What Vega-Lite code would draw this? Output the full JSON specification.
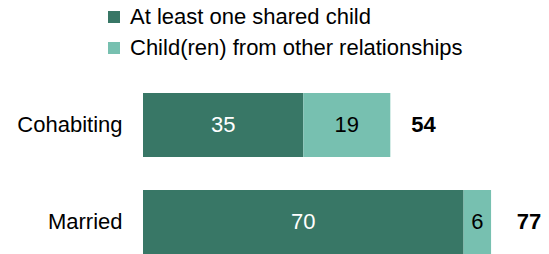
{
  "$schema": "https://vega.github.io/schema/vega-lite/v6.json",
  "width": 406,
  "height": 161,
  "autosize": {"type": "none"},
  "padding": {"left": 143, "top": 93, "right": 0, "bottom": 0},
  "background": "white",
  "config": {"view": {"stroke": null}, "font": "Liberation Sans"},
  "datasets": {
    "segments": [
      {"group": "Cohabiting", "type": "At least one shared child", "value": 35, "order": 1},
      {"group": "Cohabiting", "type": "Child(ren) from other relationships", "value": 19, "order": 2},
      {"group": "Married", "type": "At least one shared child", "value": 70, "order": 1},
      {"group": "Married", "type": "Child(ren) from other relationships", "value": 6, "order": 2}
    ],
    "totals": [
      {"group": "Cohabiting", "total": 54},
      {"group": "Married", "total": 77}
    ]
  },
  "layer": [
    {
      "data": {"name": "segments"},
      "mark": {"type": "bar"},
      "encoding": {
        "y": {
          "field": "group", "type": "nominal",
          "scale": {"domain": ["Cohabiting", "Married"], "paddingInner": 0.34, "paddingOuter": 0},
          "axis": {"title": null, "ticks": false, "domain": false, "labelPadding": 21, "labelFontSize": 22, "labelColor": "#000", "labelFont": "Liberation Sans"}
        },
        "x": {"field": "value", "type": "quantitative", "stack": "zero", "scale": {"domain": [0, 88.65], "nice": false, "zero": true}, "axis": null},
        "color": {
          "field": "type", "type": "nominal",
          "scale": {"domain": ["At least one shared child", "Child(ren) from other relationships"], "range": ["#387766", "#77c0b0"]},
          "legend": {"title": null, "orient": "none", "legendX": -40, "legendY": -87, "direction": "vertical", "symbolType": "square", "symbolSize": 144, "symbolStrokeWidth": 0, "symbolOpacity": 1, "labelFontSize": 22, "labelFont": "Liberation Sans", "labelColor": "#000", "rowPadding": 9, "labelOffset": 5, "padding": 0, "labelLimit": 0}
        },
        "order": {"field": "order", "type": "quantitative"}
      }
    },
    {
      "data": {"name": "segments"},
      "mark": {"type": "text", "fontSize": 22, "baseline": "middle", "align": "center"},
      "encoding": {
        "y": {"field": "group", "type": "nominal"},
        "x": {"field": "value", "type": "quantitative", "stack": "zero", "bandPosition": 0.5},
        "detail": {"field": "type"},
        "order": {"field": "order", "type": "quantitative"},
        "text": {"field": "value"},
        "color": {"condition": {"test": "datum.type === 'At least one shared child'", "value": "#ffffff"}, "value": "#000000"}
      }
    },
    {
      "data": {"name": "totals"},
      "mark": {"type": "text", "fontSize": 22, "fontWeight": "bold", "baseline": "middle", "align": "left", "dx": 21, "color": "#000000"},
      "encoding": {
        "y": {"field": "group", "type": "nominal"},
        "x": {"field": "total", "type": "quantitative"},
        "text": {"field": "total"}
      }
    }
  ]
}
